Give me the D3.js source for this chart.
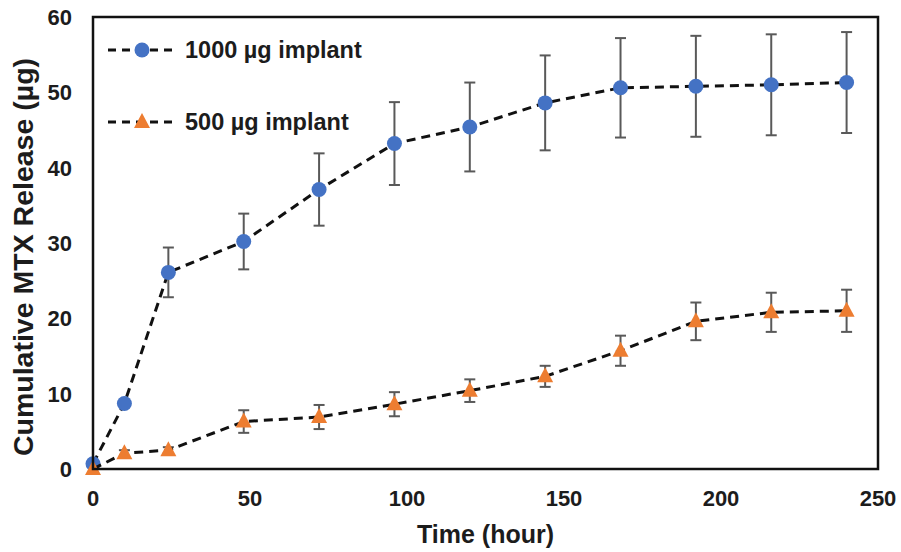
<!DOCTYPE html>
<html>
<head>
<meta charset="utf-8">
<script src="https://cdn.jsdelivr.net/npm/d3@7"></script>
<style>
  body { margin: 0; background: #fff; }
  text { font-family: "Liberation Sans", Arial, sans-serif; font-weight: bold; fill: #1c1c1c; }
</style>
</head>
<body>
<script>
// Sampling times (hours)
const time = [0, 10, 24, 48, 72, 96, 120, 144, 168, 192, 216, 240];

// 1000 µg implant: mean release and error
const rel1000 = [0.7, 8.7, 26.1, 30.2, 37.1, 43.2, 45.4, 48.6, 50.6, 50.8, 51.0, 51.3];
const err1000 = [0, 0, 3.3, 3.7, 4.8, 5.5, 5.9, 6.3, 6.6, 6.7, 6.7, 6.7];

// 500 µg implant: mean release and error
const rel500 = [0, 2.1, 2.5, 6.3, 6.9, 8.6, 10.4, 12.3, 15.7, 19.6, 20.8, 21.0];
const err500 = [0, 0.4, 0.4, 1.5, 1.6, 1.6, 1.5, 1.4, 2.0, 2.5, 2.6, 2.8];

const seriesNames = ["1000 µg implant", "500 µg implant"];
const xTicks = [0, 50, 100, 150, 200, 250];
const yTicks = [0, 10, 20, 30, 40, 50, 60];

const w = 901, h = 552;
const plotL = 93, plotR = 878, plotT = 17, plotB = 469;

const svg = d3.select("body").append("svg")
  .attr("width", w)
  .attr("height", h);

const x = d3.scaleLinear().domain([0, 250]).range([plotL, plotR]);
const y = d3.scaleLinear().domain([0, 60]).range([plotB, plotT]);

// tick labels
svg.selectAll(".ytick")
  .data(yTicks)
  .enter().append("text")
  .attr("x", 72)
  .attr("y", d => y(d) + 8)
  .attr("text-anchor", "end")
  .style("font-size", "22px")
  .text(d => d);

svg.selectAll(".xtick")
  .data(xTicks)
  .enter().append("text")
  .attr("x", d => x(d))
  .attr("y", 506)
  .attr("text-anchor", "middle")
  .style("font-size", "22px")
  .text(d => d);

// axis titles
svg.append("text")
  .attr("x", (plotL + plotR) / 2)
  .attr("y", 543)
  .attr("text-anchor", "middle")
  .style("font-size", "25px")
  .text("Time (hour)");

svg.append("text")
  .attr("transform", "translate(33,257) rotate(-90)")
  .attr("text-anchor", "middle")
  .style("font-size", "28.5px")
  .text("Cumulative MTX Release (µg)");

const series = [
  { name: seriesNames[0], vals: rel1000, errs: err1000, color: "#4472C4", shape: "circle" },
  { name: seriesNames[1], vals: rel500, errs: err500, color: "#ED7D31", shape: "triangle" }
];

const line = d3.line()
  .x(d => x(d[0]))
  .y(d => y(d[1]));

// triangle marker, 16 wide and 15 tall, centred on the point
function triPath() {
  const p = d3.path();
  p.moveTo(0, -9);
  p.lineTo(8, 6);
  p.lineTo(-8, 6);
  p.closePath();
  return p.toString();
}

function marker(g, s, cx, cy) {
  if (s.shape === "circle") {
    g.append("circle").attr("cx", cx).attr("cy", cy).attr("r", 7.5).attr("fill", s.color);
  } else {
    g.append("path").attr("d", triPath()).attr("transform", "translate(" + cx + "," + cy + ")").attr("fill", s.color);
  }
}

series.forEach(s => {
  const pts = time.map((t, i) => [t, s.vals[i], s.errs[i]]);
  const g = svg.append("g");

  // error bars
  pts.filter(p => p[2] > 0).forEach(p => {
    const eb = g.append("g").attr("stroke", "#595959").attr("stroke-width", 2);
    eb.append("line").attr("x1", x(p[0])).attr("x2", x(p[0])).attr("y1", y(p[1] - p[2])).attr("y2", y(p[1] + p[2]));
    eb.append("line").attr("x1", x(p[0]) - 5.5).attr("x2", x(p[0]) + 5.5).attr("y1", y(p[1] + p[2])).attr("y2", y(p[1] + p[2]));
    eb.append("line").attr("x1", x(p[0]) - 5.5).attr("x2", x(p[0]) + 5.5).attr("y1", y(p[1] - p[2])).attr("y2", y(p[1] - p[2]));
  });

  g.append("path")
    .datum(pts)
    .attr("d", line)
    .attr("fill", "none")
    .attr("stroke", "#111")
    .attr("stroke-width", 3)
    .attr("stroke-dasharray", "9,6");

  pts.forEach(p => marker(g, s, x(p[0]), y(p[1])));
});

// legend
series.forEach((s, i) => {
  const ly = 50 + i * 72;
  const lg = svg.append("g");
  lg.append("line")
    .attr("x1", 108).attr("x2", 174)
    .attr("y1", ly).attr("y2", ly)
    .attr("stroke", "#111")
    .attr("stroke-width", 3)
    .attr("stroke-dasharray", "8,6");
  marker(lg, s, 142, ly);
  lg.append("text")
    .attr("x", 185)
    .attr("y", ly + 8)
    .style("font-size", "23.5px")
    .text(s.name);
});

// plot frame
svg.append("rect")
  .attr("x", plotL)
  .attr("y", plotT)
  .attr("width", plotR - plotL)
  .attr("height", plotB - plotT)
  .attr("fill", "none")
  .attr("stroke", "#111")
  .attr("stroke-width", 2.5);
</script>
</body>
</html>
